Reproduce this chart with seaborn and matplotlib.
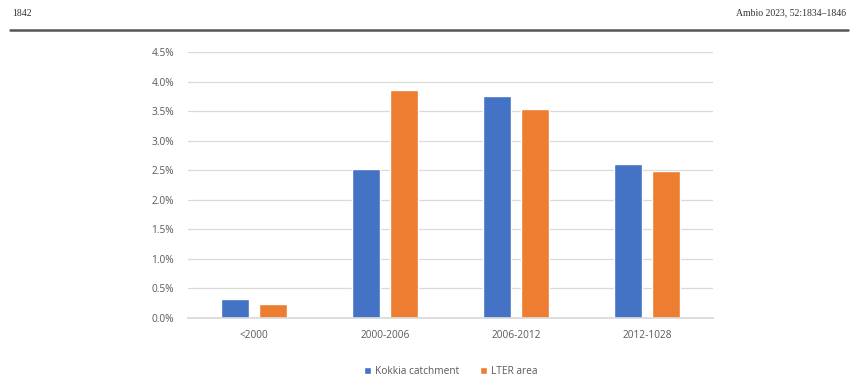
import matplotlib
matplotlib.use("Agg")
import matplotlib.pyplot as plt
import seaborn as sns
import pandas as pd
from matplotlib.ticker import FuncFormatter

categories = ["<2000", "2000-2006", "2006-2012", "2012-1028"]
kokkia = [0.32, 2.52, 3.76, 2.61]
lter = [0.24, 3.85, 3.54, 2.48]
series_names = ["Kokkia catchment", "LTER area"]
yticks = [0.0, 0.5, 1.0, 1.5, 2.0, 2.5, 3.0, 3.5, 4.0, 4.5]

df = pd.DataFrame({
    "period": categories * 2,
    "value": kokkia + lter,
    "series": [series_names[0]] * len(categories) + [series_names[1]] * len(categories),
})

sns.set_theme(style="white")
plt.rcParams["font.family"] = ["Open Sans", "DejaVu Sans"]

fig = plt.figure(figsize=(8.58, 3.82), dpi=100)
ax = fig.add_axes([188/858, 1-318/382, (713-188)/858, (318-52)/382])

sns.barplot(data=df, x="period", y="value", hue="series", order=categories,
            hue_order=series_names, palette=["#4472C4", "#ED7D31"],
            width=0.576, gap=0.26, ax=ax, legend=True, saturation=1)

ax.set_ylim(0, 4.5)
ax.set_yticks(yticks)
ax.yaxis.set_major_formatter(FuncFormatter(lambda v, p: f"{v:.1f}%"))
ax.grid(axis="y", color="#d9d9d9", linewidth=0.9)
ax.set_axisbelow(True)
for s in ["top", "right", "left"]:
    ax.spines[s].set_visible(False)
ax.spines["bottom"].set_color("#d9d9d9")
ax.set_xlabel("")
ax.set_ylabel("")
ax.tick_params(axis="both", length=0, colors="#595959", labelsize=7.3)
ax.tick_params(axis="y", pad=10)
ax.tick_params(axis="x", pad=9)

leg = ax.legend(loc="upper center", bbox_to_anchor=(0.5, -0.145), ncol=2, frameon=False,
                fontsize=7.3, handlelength=0.7, handleheight=0.7, columnspacing=2.0,
                handletextpad=0.4)
for t in leg.get_texts():
    t.set_color("#595959")

fig.text(12/858, 1-13/382, "1842", fontsize=7, family="Liberation Serif", va="center", ha="left", color="#333333")
fig.text(846/858, 1-13/382, "Ambio 2023, 52:1834\u20131846", fontsize=7, family="Liberation Serif",
         va="center", ha="right", color="#333333")
fig.add_artist(plt.Line2D([10/858, 848/858], [1-30/382, 1-30/382], color="#555555", linewidth=1.8))

fig.savefig("out.png", dpi=100, facecolor="white")
